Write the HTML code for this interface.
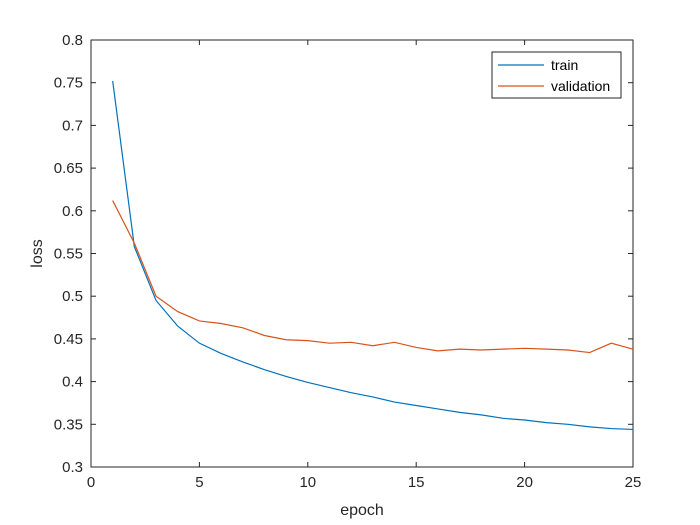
<!DOCTYPE html>
<html><head><meta charset="utf-8"><style>
html,body{margin:0;padding:0;background:#fff}
svg{display:block;font-family:"Liberation Sans",Arial,sans-serif}
</style></head><body>
<svg id="chart" width="700" height="525"></svg>
<script>
const epochs=[1,2,3,4,5,6,7,8,9,10,11,12,13,14,15,16,17,18,19,20,21,22,23,24,25];
const trainLoss=[0.752,0.558,0.495,0.465,0.445,0.433,0.423,0.414,0.406,0.399,0.393,0.387,0.382,0.376,0.372,0.368,0.364,0.361,0.357,0.355,0.352,0.350,0.347,0.345,0.344];
const valLoss=[0.612,0.562,0.500,0.482,0.471,0.468,0.463,0.454,0.449,0.448,0.445,0.446,0.442,0.446,0.440,0.436,0.438,0.437,0.438,0.439,0.438,0.437,0.434,0.445,0.438];
const xTicks=[0,5,10,15,20,25];
const yTicks=[0.3,0.35,0.4,0.45,0.5,0.55,0.6,0.65,0.7,0.75,0.8];
const yTickLabels=['0.3','0.35','0.4','0.45','0.5','0.55','0.6','0.65','0.7','0.75','0.8'];
const L=91,R=633,T=40,B=467;
const sx=v=>L+(v-0)/25*(R-L);
const sy=v=>B-(v-0.3)/0.5*(B-T);
const svg=document.getElementById('chart');
const NS='http://www.w3.org/2000/svg';
function mk(tag,attrs,parent){const e=document.createElementNS(NS,tag);for(const k in attrs)e.setAttribute(k,attrs[k]);(parent||svg).appendChild(e);return e;}
const frame=mk('rect',{x:L,y:T,width:R-L,height:B-T,fill:'#fff',stroke:'#262626','stroke-width':1});


xTicks.forEach(t=>{const x=sx(t);
 mk('line',{x1:x,x2:x,y1:B,y2:B-5,stroke:'#262626'});mk('line',{x1:x,x2:x,y1:T,y2:T+5,stroke:'#262626'});
 const tx=mk('text',{x:x,y:B+20,'text-anchor':'middle','font-size':15,fill:'#262626'});tx.textContent=t;
 
 });
yTicks.forEach((t,i)=>{const y=sy(t);
 mk('line',{x1:L,x2:L+5,y1:y,y2:y,stroke:'#262626'});mk('line',{x1:R,x2:R-5,y1:y,y2:y,stroke:'#262626'});
 const tx=mk('text',{x:L-8,y:y+5,'text-anchor':'end','font-size':15,fill:'#262626'});tx.textContent=yTickLabels[i];
 
 });
const xt=mk('text',{x:(L+R)/2,y:515,'text-anchor':'middle','font-size':16,fill:'#262626'});xt.textContent='epoch';


const yt=mk('text',{x:42,y:(T+B)/2,'text-anchor':'middle','font-size':16,fill:'#262626',transform:`rotate(-90 42 ${(T+B)/2})`});yt.textContent='loss';


function series(vals,color,name){const p=mk('polyline',{points:epochs.map((e,i)=>sx(e)+','+sy(vals[i])).join(' '),fill:'none',stroke:color,'stroke-width':1.2});
 
 }
series(trainLoss,'#0072BD','train-line');
series(valLoss,'#D95319','validation-line');
const lg=mk('g',{});


mk('rect',{x:492,y:52,width:129,height:46,fill:'#fff',stroke:'#262626'},lg);
mk('line',{x1:498,x2:544,y1:65,y2:65,stroke:'#0072BD','stroke-width':1.2},lg);
mk('line',{x1:498,x2:544,y1:86,y2:86,stroke:'#D95319','stroke-width':1.2},lg);
const l1=mk('text',{x:551,y:70,'font-size':14,fill:'#000'},lg);l1.textContent='train';


const l2=mk('text',{x:551,y:91,'font-size':14,fill:'#000'},lg);l2.textContent='validation';


</script>
</body></html>
